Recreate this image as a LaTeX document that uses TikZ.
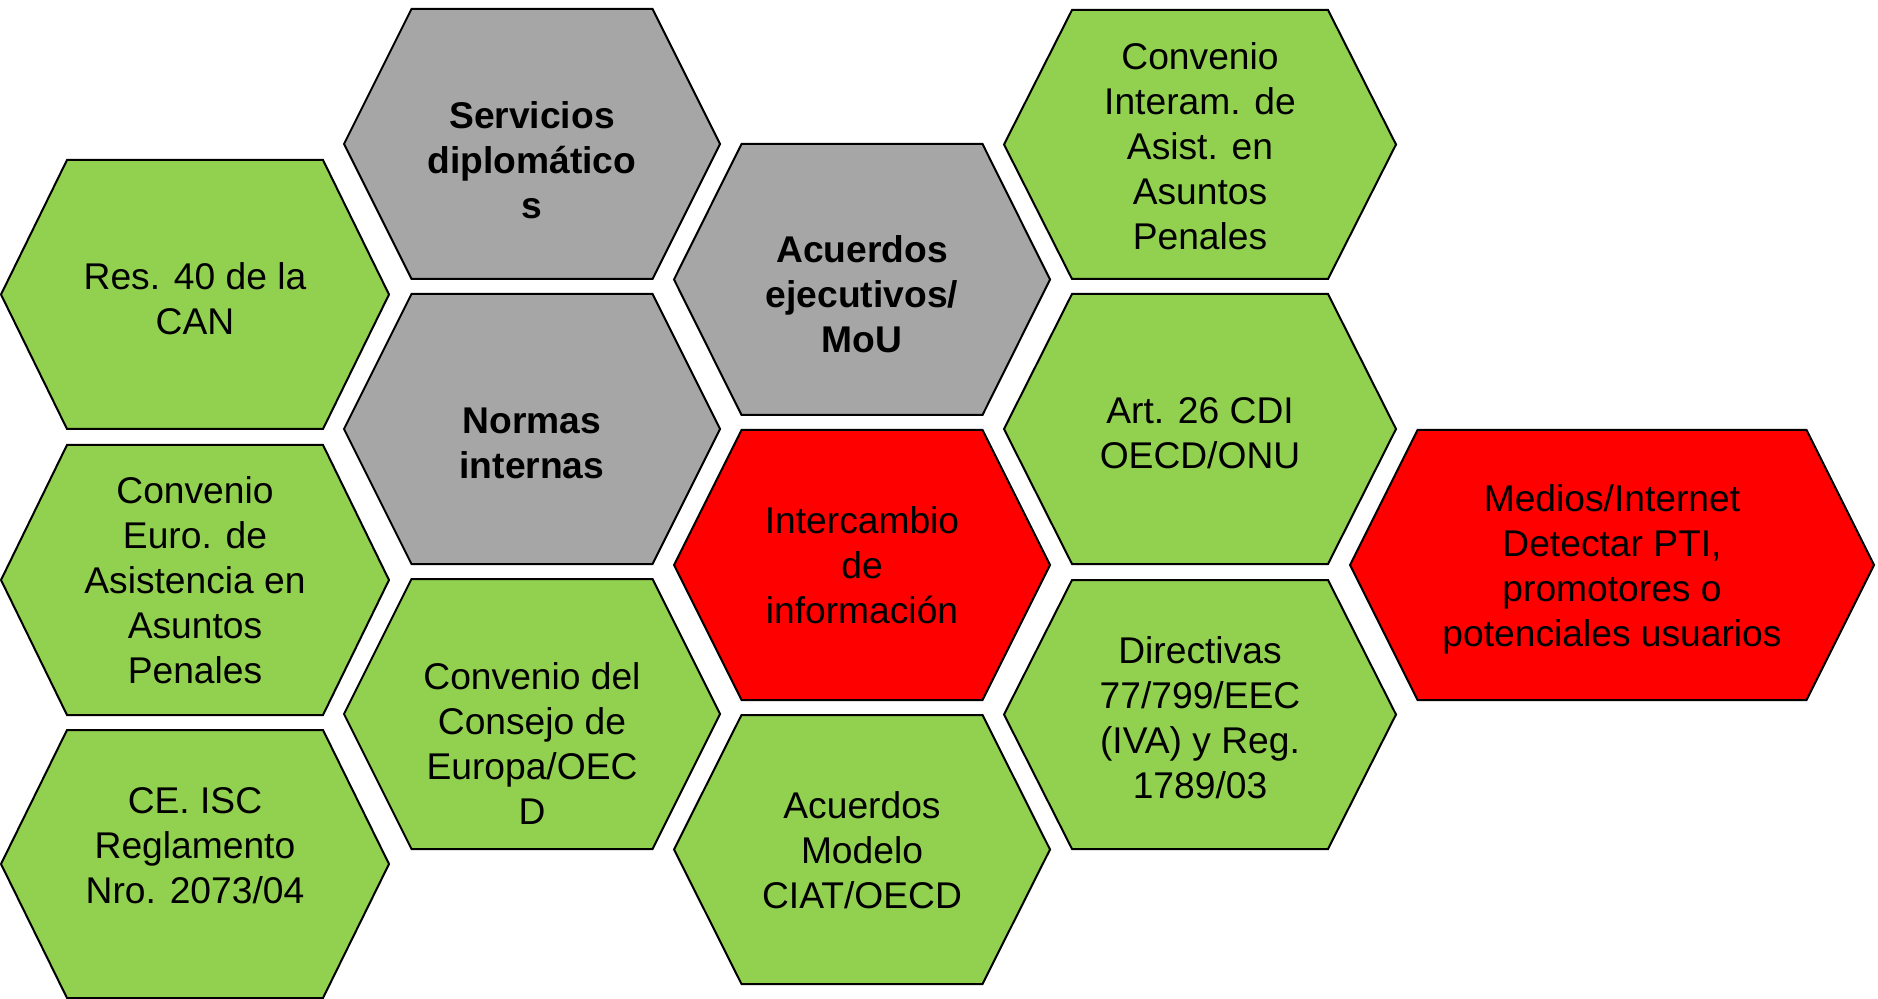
\documentclass[tikz,border=0pt]{standalone}
\usepackage{fontspec}
\setmainfont{Liberation Sans}
\definecolor{hexgreen}{HTML}{92D050}
\definecolor{hexgray}{HTML}{A6A6A6}
\definecolor{hexred}{HTML}{FF0000}
\tikzset{
  hexgreenfill/.style={fill=hexgreen},
  hexgrayfill/.style={fill=hexgray},
  hexredfill/.style={fill=hexred},
  hexborder/.style={draw=black, line width=1pt, line join=miter},
  hextext/.style={align=center, inner sep=0pt, text=black, yshift=-1.5pt,
    font=\fontsize{18.6pt}{22.5pt}\selectfont,
    execute at begin node=\strut, execute at end node=\strut},
  hexbold/.style={hextext, font=\fontsize{18.6pt}{22.5pt}\selectfont\bfseries},
}
% #1 name, #2 cx, #3 top, #4 bottom, #5 outer half width, #6 inner half width,
% #7 style, #8 text centre y, #9 text
\newcommand\hexa[9]{%
  \path[hexborder,#7]
    ({#2-#6},#3) -- ({#2+#6},#3) -- ({#2+#5},{(#3+#4)/2})
    -- ({#2+#6},#4) -- ({#2-#6},#4) -- ({#2-#5},{(#3+#4)/2}) -- cycle;
  \node[hextext] (#1) at (#2,#8) {#9};
}
\newcommand\hexb[9]{%
  \path[hexborder,#7]
    ({#2-#6},#3) -- ({#2+#6},#3) -- ({#2+#5},{(#3+#4)/2})
    -- ({#2+#6},#4) -- ({#2-#6},#4) -- ({#2-#5},{(#3+#4)/2}) -- cycle;
  \node[hexbold] (#1) at (#2,#8) {#9};
}
\begin{document}
\begin{tikzpicture}[x=0.5pt,y=-0.5pt]
\useasboundingbox[fill=white] (0,0) rectangle (1878,999);
% column 1
\hexa{res}{195}{160}{429}{194}{128}{hexgreenfill}{302.5}{Res. 40 de la\\CAN}
\hexa{euro}{195}{445}{715}{194}{128}{hexgreenfill}{584}{Convenio\\Euro. de\\Asistencia en\\Asuntos\\Penales}
\hexa{ceisc}{195}{730}{998}{194}{128}{hexgreenfill}{849}{CE. ISC\\Reglamento\\Nro. 2073/04}
% column 2
\hexb{serv}{532}{9}{279}{188}{120.5}{hexgrayfill}{164}{Servicios\\diplomático\\s}
\hexb{normas}{532}{294}{564}{188}{120.5}{hexgrayfill}{446.5}{Normas\\internas}
\hexa{consejo}{532}{579}{849}{188}{120.5}{hexgreenfill}{747.5}{Convenio del\\Consejo de\\Europa/OEC\\D}
% column 3
\hexb{acuerdos}{862}{144}{415}{188}{120.5}{hexgrayfill}{298}{Acuerdos\\ejecutivos/\\MoU}
\hexa{inter}{862}{430}{700}{188}{120.5}{hexredfill}{569}{Intercambio\\de\\información}
\hexa{modelo}{862}{715}{984}{188}{120.5}{hexgreenfill}{854}{Acuerdos\\Modelo\\CIAT/OECD}
% column 4
\hexa{interam}{1200}{10}{279}{196}{128}{hexgreenfill}{150}{Convenio\\Interam. de\\Asist. en\\Asuntos\\Penales}
\hexa{art}{1200}{294}{564}{196}{128}{hexgreenfill}{436.5}{Art. 26 CDI\\OECD/ONU}
\hexa{direct}{1200}{580}{849}{196}{128}{hexgreenfill}{721}{Directivas\\77/799/EEC\\(IVA) y Reg.\\1789/03}
% column 5
\hexa{medios}{1612}{430}{700}{262}{194.5}{hexredfill}{569.5}{Medios/Internet\\Detectar PTI,\\promotores o\\potenciales usuarios}
\end{tikzpicture}
\end{document}
